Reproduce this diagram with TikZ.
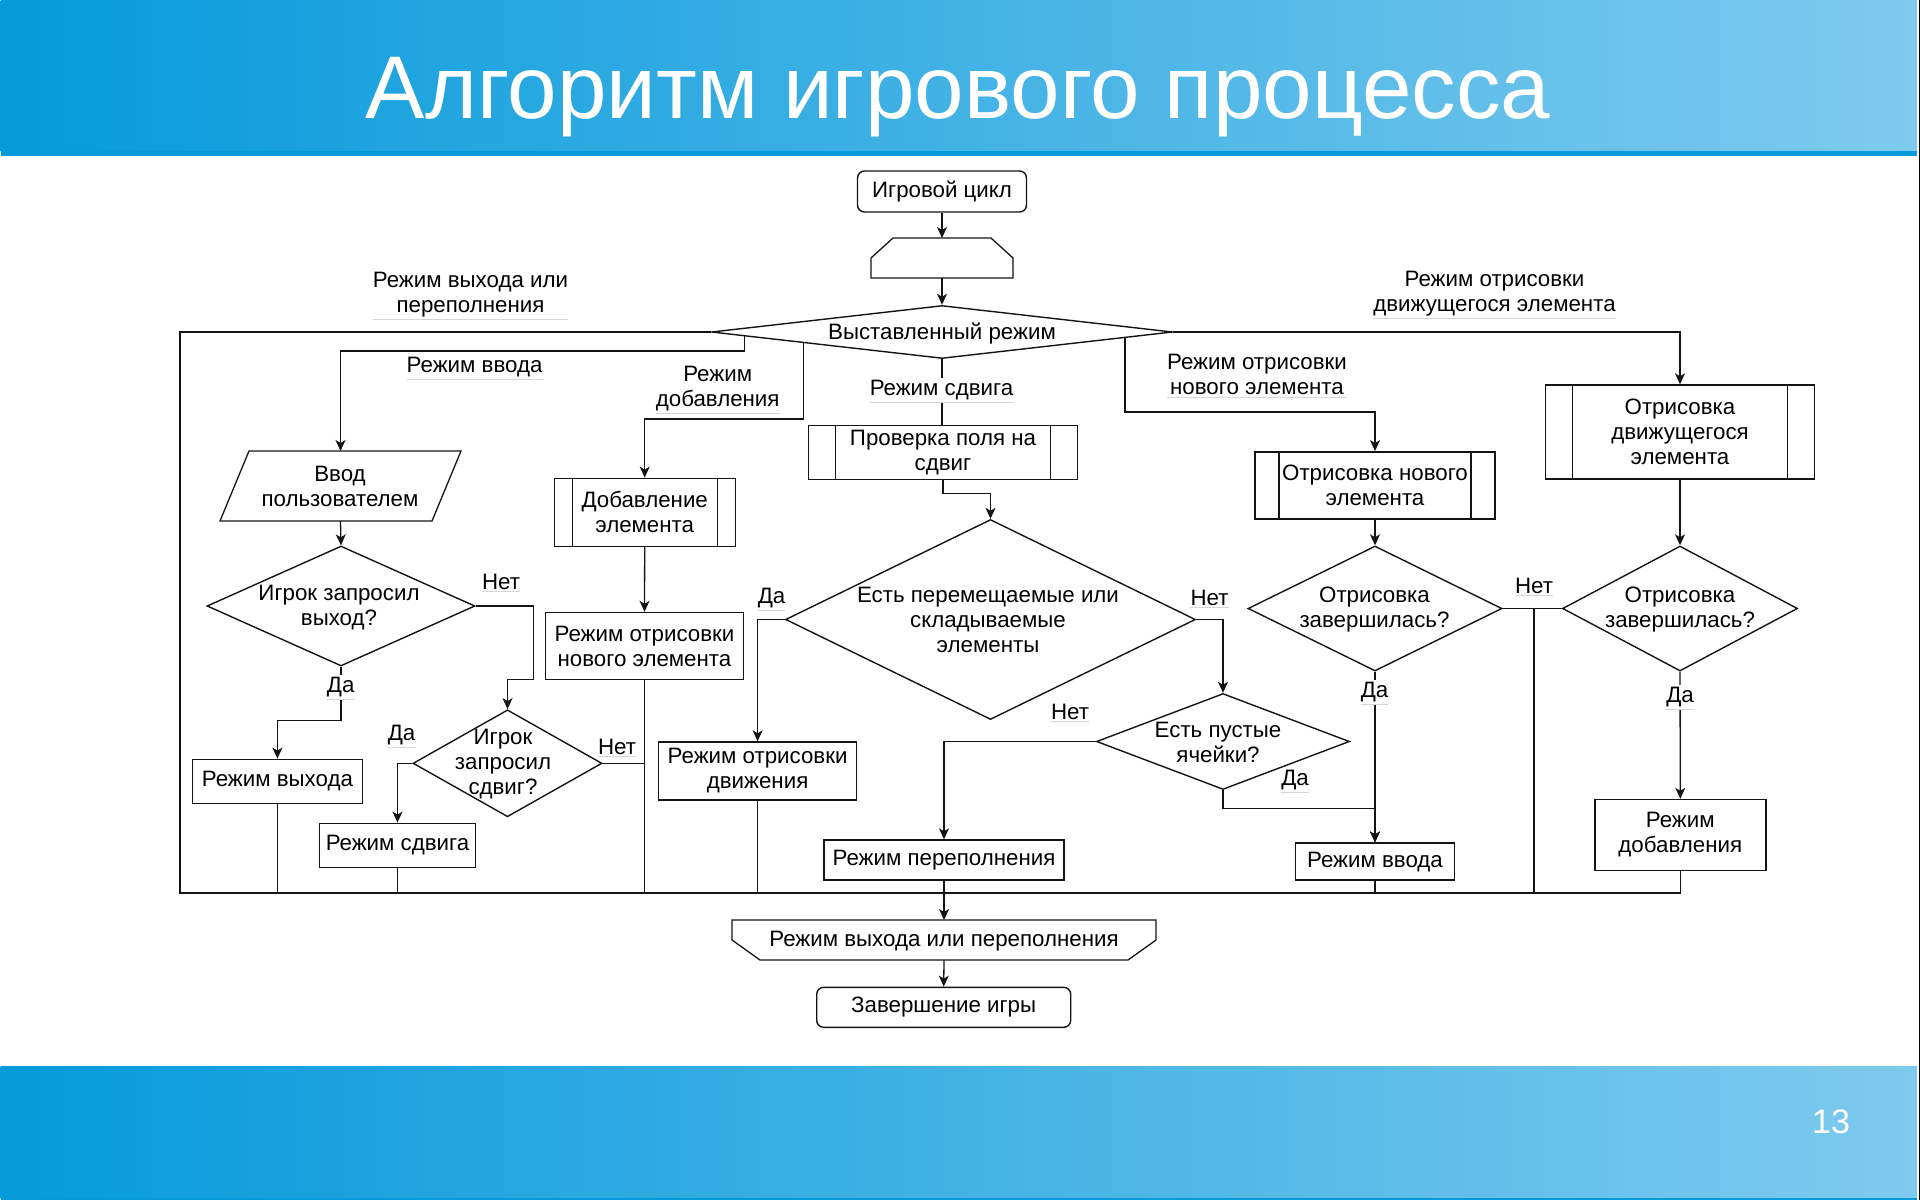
\documentclass[tikz,border=0pt]{standalone}
\usepackage{fontspec}
\setmainfont{Liberation Sans}
\usetikzlibrary{shapes.geometric,arrows.meta,calc}

\definecolor{bandL}{RGB}{6,154,219}
\definecolor{bandR}{RGB}{126,202,238}
\definecolor{ink}{RGB}{20,20,20}
\definecolor{ulgray}{RGB}{214,214,214}

\newcommand\dfont{\fontsize{22.3}{25}\selectfont}

\tikzset{
  base/.style={draw=ink, line width=1.4pt, fill=white, inner sep=0pt, font=\dfont, align=center},
  box/.style={base, rectangle},
  term/.style={base, rectangle, rounded corners=7pt},
  dia/.style={draw=ink, line width=1.4pt, diamond, inner sep=0pt, fill=white},
  sub/.style={box, path picture={
      \draw[ink, line width=1.4pt]
        ([xshift=#1]path picture bounding box.north west) -- ([xshift=#1]path picture bounding box.south west)
        ([xshift=-#1]path picture bounding box.north east) -- ([xshift=-#1]path picture bounding box.south east);}},
  frm/.style={draw=none, rectangle, inner sep=0pt, outer sep=0pt},
  txt/.style={inner sep=0pt, font=\dfont, align=center},
  lab/.style={txt, inner ysep=2pt,
      append after command={(\tikzlastnode.south west) edge[draw=ulgray, line width=1pt] (\tikzlastnode.south east)}},
  onl/.style={lab, fill=white},
  conn/.style={draw=ink, line width=1.3pt},
  arr/.style={conn, -{Stealth[length=11pt, width=10pt, inset=3pt]}},
  frame/.style={draw=ink, line width=2pt},
}

\begin{document}
\begin{tikzpicture}[x=1pt,y=-1pt]
\useasboundingbox (0,0) rectangle (1920,1200);

% header and footer bands
\shade[left color=bandL, right color=bandR] (0.7,0) rectangle (1917,151);
\fill[bandL] (0.7,151) rectangle (1917,156);
\shade[left color=bandL, right color=bandR] (0.7,1066) rectangle (1917,1198);
\fill[bandL] (0.7,1198) rectangle (1917,1200);
\fill[black] (1919,0) rectangle (1920,1200);

\node[font=\fontsize{89}{100}\selectfont, text=white, anchor=base, inner sep=0pt] (title) at (958,118) {Алгоритм игрового процесса};
\node[font=\fontsize{34}{40}\selectfont, text=white, inner sep=0pt] (pg) at (1831,1122) {13};

% ---- blocks ----
\node[term, minimum width=169pt, minimum height=41pt] (start) at (942,191.5) {Игровой цикл};

\node[frm, minimum width=142pt, minimum height=40pt] (lp) at (942,258) {};
\draw[conn] (lp.south west) -- ++(0,-20) -- ++(22,-20) -- ([xshift=-22pt]lp.north east) -- ++(22,20) -- (lp.south east) -- cycle;

\node[dia, minimum width=461pt, minimum height=53pt] (d0) at (942,332) {};
\node[txt] (d0t) at (942,333.5) {Выставленный режим};

\node[frm, minimum width=241pt, minimum height=70pt] (vv) at (340.5,486) {};
\draw[conn] (vv.south west) -- ([xshift=29pt]vv.north west) -- (vv.north east) -- ([xshift=-29pt]vv.south east) -- cycle;
\node[txt] (vvt) at (340,486) {Ввод\\пользователем};

\node[dia, minimum width=268pt, minimum height=120pt] (d1) at (341,606) {};
\node[txt] (d1t) at (339,607.5) {Игрок запросил\\выход?};

\node[box, minimum width=170pt, minimum height=44pt] (rexit) at (277.4,781.3) {Режим выхода};

\node[dia, minimum width=189pt, minimum height=107pt] (d2) at (507.5,763.3) {};
\node[txt] (d2t) at (503,764) {Игрок\\запросил\\сдвиг?};

\node[box, minimum width=156pt, minimum height=44pt] (rshift) at (397.5,845.3) {Режим сдвига};

\node[sub=18pt, minimum width=181pt, minimum height=68pt] (addel) at (644.7,512.3) {Добавление\\элемента};
\node[box, minimum width=198pt, minimum height=67pt] (rnew) at (644.5,646) {Режим отрисовки\\нового элемента};

\node[sub=27pt, minimum width=269pt, minimum height=54pt] (chk) at (943,452.5) {Проверка поля на\\сдвиг};

\node[dia, minimum width=410pt, minimum height=200pt] (d3) at (990.5,619.5) {};
\node[txt] (d3t) at (988,620) {Есть перемещаемые или\\складываемые\\элементы};

\node[box, minimum width=198pt, minimum height=58pt] (rmove) at (757.6,771) {Режим отрисовки\\движения};

\node[dia, minimum width=253pt, minimum height=96pt] (d4) at (1223,741.5) {};
\node[txt] (d4t) at (1218,742) {Есть пустые\\ячейки?};

\node[box, minimum width=240pt, minimum height=40pt] (rover) at (944,860) {Режим переполнения};

\node[sub=24pt, minimum width=240pt, minimum height=67pt] (newel) at (1375,485.3) {Отрисовка нового\\элемента};
\node[dia, minimum width=254pt, minimum height=125pt] (d5) at (1375,608.5) {};
\node[txt] (d5t) at (1374.5,610) {Отрисовка\\завершилась?};
\node[box, minimum width=159pt, minimum height=37pt] (rin) at (1375,861.6) {Режим ввода};

\node[sub=27pt, minimum width=269pt, minimum height=94pt] (movel) at (1680,432) {Отрисовка\\движущегося\\элемента};
\node[dia, minimum width=235pt, minimum height=125pt] (d6) at (1680,608.5) {};
\node[txt] (d6t) at (1680,610) {Отрисовка\\завершилась?};
\node[box, minimum width=171pt, minimum height=71pt] (radd) at (1680.3,835) {Режим\\добавления};

\node[frm, minimum width=424pt, minimum height=40pt] (lend) at (944,940) {};
\draw[conn] (lend.north west) -- (lend.north east) -- ++(0,20) -- ++(-28,20) -- ([xshift=28pt]lend.south west) -- ++(-28,-20) -- cycle;
\node[txt] (lendt) at (944,941) {Режим выхода или переполнения};

\node[term, minimum width=254pt, minimum height=40pt] (fin) at (943.7,1007.3) {Завершение игры};

% ---- junction points ----
\coordinate (bl) at (180,893);
\coordinate (jn) at (1534,608.5);
\coordinate (jb) at (1534,893);

% ---- connectors ----
\draw[arr] (start.south) -- (lp.north);
\draw[arr] (lp.south) -- (d0.north);
\draw[frame] (d0.west) -| (bl) -- (jb);
\draw[arr] ($(d0.west)!0.147!(d0.south)$) -- ++(0,15) -| (vv.north);
\draw[arr] ($(d0.west)!0.4!(d0.south)$) -- ++(0,76) -| (addel.north);
\draw[conn] (d0.south) -- (d0.south |- chk.north);
\draw[arr] ($(d0.south)!0.792!(d0.east)$) -- ++(0,74.3) -| (newel.north);
\draw[arr] (d0.east) -| (movel.north);

\draw[arr] (vv.south) -- (d1.north);
\draw[arr] (d1.south) -- ++(0,54) -| (rexit.north);
\draw[arr] (d1.east) -- ++(58,0) -- ++(0,73.3) -| (d2.north);
\draw[arr] (d2.west) -| (rshift.north);
\draw[conn] (d2.east) -- (d2.east -| rnew.south);
\draw[arr] (addel.south) -- (rnew.north);

\draw[conn] (rexit.south) -- (rexit.south |- bl);
\draw[conn] (rshift.south) -- (rshift.south |- bl);
\draw[conn] (rnew.south) -- (rnew.south |- bl);
\draw[conn] (rmove.south) -- (rmove.south |- bl);
\draw[conn] (rin.south) -- (rin.south |- bl);

\draw[arr] (chk.south) -- ++(0,13) -| (d3.north);
\draw[arr] (d3.west) -| (rmove.north);
\draw[arr] (d3.east) -| (d4.north);
\draw[arr] (d4.west) -| (rover.north);
\draw[arr] (d4.south) -- ++(0,18.2) -| (rin.north);

\draw[arr] (newel.south) -- (d5.north);
\draw[arr] (d5.south) -- (rin.north);
\draw[conn] (d5.east) -- (d6.west);
\draw[conn] (jn) -- (jb);
\draw[arr] (movel.south) -- (d6.north);
\draw[arr] (d6.south) -- (radd.north);
\draw[conn] (radd.south) |- (jb);

\draw[arr] (rover.south) -- (lend.north);
\draw[arr] (lend.south) -- (fin.north);

% ---- branch labels ----
\node[lab] (l1) at (470.5,294.5) {Режим выхода или\\переполнения};
\node[lab] (l2) at (474.6,367) {Режим ввода};
\node[lab] (l3) at (717.7,388.5) {Режим\\добавления};
\node[onl] (l4) at (941.5,390.3) {Режим сдвига};
\node[lab] (l5) at (1257,374.7) {Режим отрисовки\\нового элемента};
\node[lab] (l6) at (1494.5,293.5) {Режим отрисовки\\движущегося элемента};

\node[lab] (n1) at (501,582) {Нет};
\node[onl] (y1) at (340.7,687) {Да};
\node[lab] (y2) at (401.5,735) {Да};
\node[lab] (n2) at (617,747) {Нет};
\node[lab] (y3) at (771.5,598) {Да};
\node[lab] (n3) at (1209.5,598) {Нет};
\node[lab] (n4) at (1070,712) {Нет};
\node[lab] (y4) at (1295,780) {Да};
\node[onl] (y5) at (1374.5,692) {Да};
\node[lab] (n5) at (1534,586) {Нет};
\node[onl] (y6) at (1680,697) {Да};
\end{tikzpicture}
\end{document}
